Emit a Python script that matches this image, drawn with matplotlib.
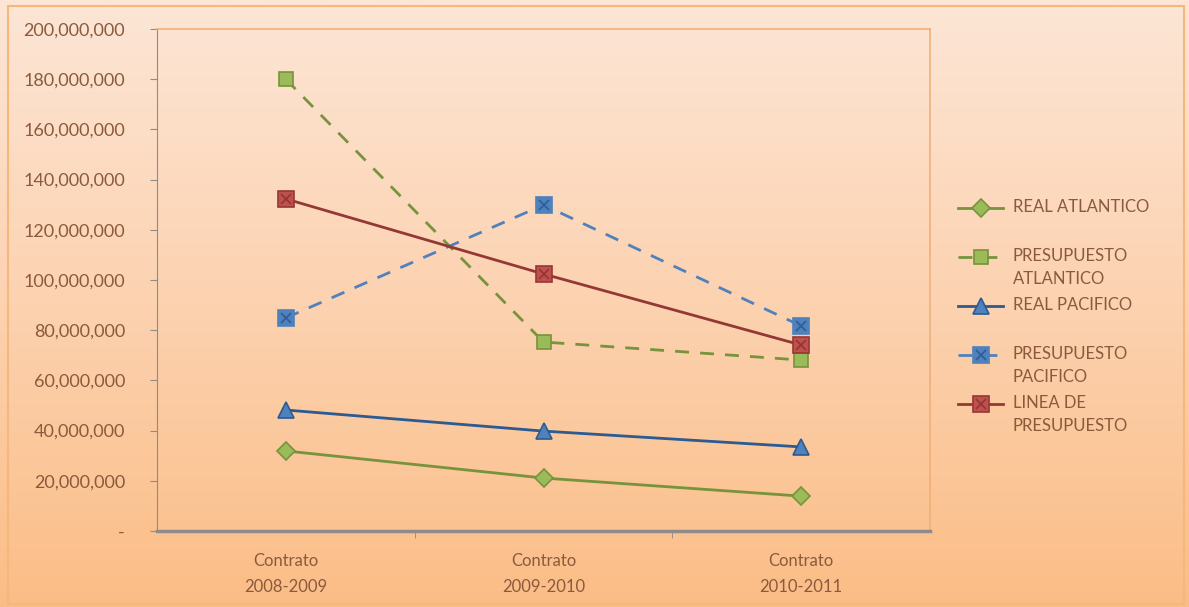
import numpy as np
import matplotlib.pyplot as plt
from matplotlib.lines import Line2D
from matplotlib.patches import Rectangle
from matplotlib.colors import LinearSegmentedColormap
from matplotlib.ticker import FuncFormatter

# ---- data ----
categories = ["Contrato\n2008-2009", "Contrato\n2009-2010", "Contrato\n2010-2011"]
real_atlantico = [31.9e6, 21.1e6, 13.9e6]
presupuesto_atlantico = [180.0e6, 75.3e6, 68.1e6]
real_pacifico = [48.2e6, 39.8e6, 33.5e6]
presupuesto_pacifico = [84.9e6, 129.9e6, 81.7e6]
linea_presupuesto = [132.3e6, 102.4e6, 74.1e6]

# label, values, line colour, marker fill, style, marker, size, cross colour (or None)
series = [
    ("REAL ATLANTICO", real_atlantico, "#77933c", "#9bbb59", "-", "D", 9, None),
    ("PRESUPUESTO\nATLANTICO", presupuesto_atlantico, "#77933c", "#9bbb59", "--", "s", 10, None),
    ("REAL PACIFICO", real_pacifico, "#2c5a91", "#4f81bd", "-", "^", 11, None),
    ("PRESUPUESTO\nPACIFICO", presupuesto_pacifico, "#4f81bd", "#4f81bd", "--", "s", 11, "#2f5f99"),
    ("LINEA DE\nPRESUPUESTO", linea_presupuesto, "#953735", "#c0504d", "-", "s", 11, "#953735"),
]

text_color = "#8b5a3c"
plt.rcParams['font.family'] = ['Lato', 'DejaVu Sans']

fig = plt.figure(figsize=(11.89, 6.07), dpi=100)

# gradient background over the whole figure
bg = fig.add_axes([0, 0, 1, 1], zorder=-10)
cmap = LinearSegmentedColormap.from_list("peach", ["#fde6d6", "#fcd2b0", "#fbbd86"])
grad = np.linspace(0, 1, 256).reshape(-1, 1)
bg.imshow(grad, aspect="auto", cmap=cmap, extent=[0, 1, 0, 1], origin="upper")
bg.set_xlim(0, 1)
bg.set_ylim(0, 1)
bg.axis("off")
bg.add_patch(Rectangle((0.007, 0.005), 0.989, 0.985, fill=False,
                       edgecolor="#f5b77c", lw=1.5, transform=bg.transAxes))

ax = fig.add_axes([157 / 1189, 1 - 531 / 607, (930 - 157) / 1189, (531 - 29) / 607])
ax.set_facecolor("none")


def style(lc, mc, ls, mk, ms):
    return dict(color=lc, linestyle=ls, lw=2.0, marker=mk, markersize=ms,
                markerfacecolor=mc, markeredgecolor=lc, markeredgewidth=1.2,
                dashes=(5, 4) if ls == "--" else (None, None))


x = np.arange(len(categories))
for label, vals, lc, mc, ls, mk, ms, xc in series:
    ax.plot(x, vals, zorder=3, **style(lc, mc, ls, mk, ms))
    if xc:
        ax.plot(x, vals, linestyle="none", marker="x", markersize=ms * 0.6,
                markeredgecolor=xc, markeredgewidth=1.3, zorder=4)

ax.set_xlim(-0.5, 2.5)
ax.set_ylim(0, 200e6)
ax.set_yticks(np.arange(0, 200e6 + 1, 20e6))
ax.yaxis.set_major_formatter(FuncFormatter(lambda v, p: "-" if v == 0 else f"{v:,.0f}"))
ax.set_xticks(x)
ax.set_xticklabels(categories, linespacing=1.75)
ax.set_xticks([0.5, 1.5], minor=True)
ax.tick_params(axis="x", which="major", length=0, pad=16, labelsize=12, colors=text_color)
ax.tick_params(axis="x", which="minor", length=5, color="#8c8c8c")
ax.tick_params(axis="y", length=5, color="#8c8c8c", labelsize=13, labelcolor=text_color, pad=18)

for s in ["top", "right"]:
    ax.spines[s].set_color("#f0b07a")
    ax.spines[s].set_linewidth(1.2)
ax.spines["left"].set_color("#8c8c8c")
ax.spines["bottom"].set_color("#8c8c8c")
ax.spines["bottom"].set_linewidth(2.5)

# legend drawn at the right of the plot area
for i, (label, vals, lc, mc, ls, mk, ms, xc) in enumerate(series):
    yy = 1 - (208 + 49 * i) / 607
    ln = Line2D([958 / 1189, 1003 / 1189], [yy, yy], transform=fig.transFigure,
                color=lc, linestyle=ls, lw=2.0, dashes=(5, 4) if ls == "--" else (None, None))
    fig.add_artist(ln)
    mkr = Line2D([981 / 1189], [yy], transform=fig.transFigure, marker=mk, markersize=ms,
                 markerfacecolor=mc, markeredgecolor=lc, markeredgewidth=1.2, linestyle="none")
    fig.add_artist(mkr)
    if xc:
        fig.add_artist(Line2D([981 / 1189], [yy], transform=fig.transFigure, marker="x",
                              markersize=ms * 0.6, markeredgecolor=xc, markeredgewidth=1.3,
                              linestyle="none"))
    fig.text(1013 / 1189, yy + 9 / 607, label, va="top", ha="left", fontsize=12,
             color=text_color, linespacing=1.55)

fig.savefig("out.png", dpi=100)
